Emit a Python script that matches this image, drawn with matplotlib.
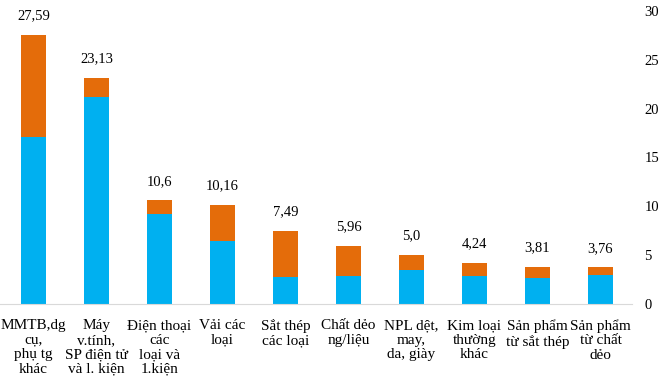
import matplotlib
matplotlib.use('Agg')
import matplotlib.pyplot as plt

plt.rcParams['font.family'] = ['Liberation Serif', 'DejaVu Serif']

categories = ['MMTB,dg\ncụ,\nphụ tg\nkhác',
              'Máy\nv.tính,\nSP điện tử\nvà l. kiện',
              'Điện thoại\ncác\nloại và\n1.kiện',
              'Vải các\nloại',
              'Sắt thép\ncác loại',
              'Chất dẻo\nng/liệu',
              'NPL dệt,\nmay,\nda, giày',
              'Kim loại\nthường\nkhác',
              'Sản phẩm\ntừ sắt thép',
              'Sản phẩm\ntừ chất\ndẻo']
totals = [27.59, 23.13, 10.6, 10.16, 7.49, 5.96, 5.0, 4.24, 3.81, 3.76]
total_labels = ['27,59', '23,13', '10,6', '10,16', '7,49', '5,96', '5,0', '4,24', '3,81', '3,76']
blue_part = [17.1, 21.2, 9.2, 6.4, 2.75, 2.85, 3.5, 2.9, 2.7, 2.95]
orange_part = [t - b for t, b in zip(totals, blue_part)]

fig = plt.figure(figsize=(6.62, 3.88), dpi=100)
ax = fig.add_axes([0.0, 1 - 304 / 388, 632 / 662, 293 / 388])

x = range(len(categories))
ax.bar(x, blue_part, width=0.4, color='#00B0F0')
ax.bar(x, orange_part, width=0.4, bottom=blue_part, color='#E46C0A')

for i, t in enumerate(totals):
    ax.annotate(total_labels[i], (i, t), xytext=(0, 9), textcoords='offset points',
                ha='center', va='bottom', fontsize=10.5)

ax.set_xlim(-0.53, 9.5)
ax.set_ylim(0, 30)
ax.set_yticks([0, 5, 10, 15, 20, 25, 30])
ax.yaxis.tick_right()
ax.tick_params(axis='y', length=0, pad=9, labelsize=10.5)
ax.set_xticks(list(x))
ax.set_xticklabels(categories, fontsize=11, linespacing=1.15)
ax.tick_params(axis='x', length=0, pad=11)

for s in ['top', 'left', 'right']:
    ax.spines[s].set_visible(False)
ax.spines['bottom'].set_color('#d9d9d9')

fig.savefig('out.png', dpi=100)
